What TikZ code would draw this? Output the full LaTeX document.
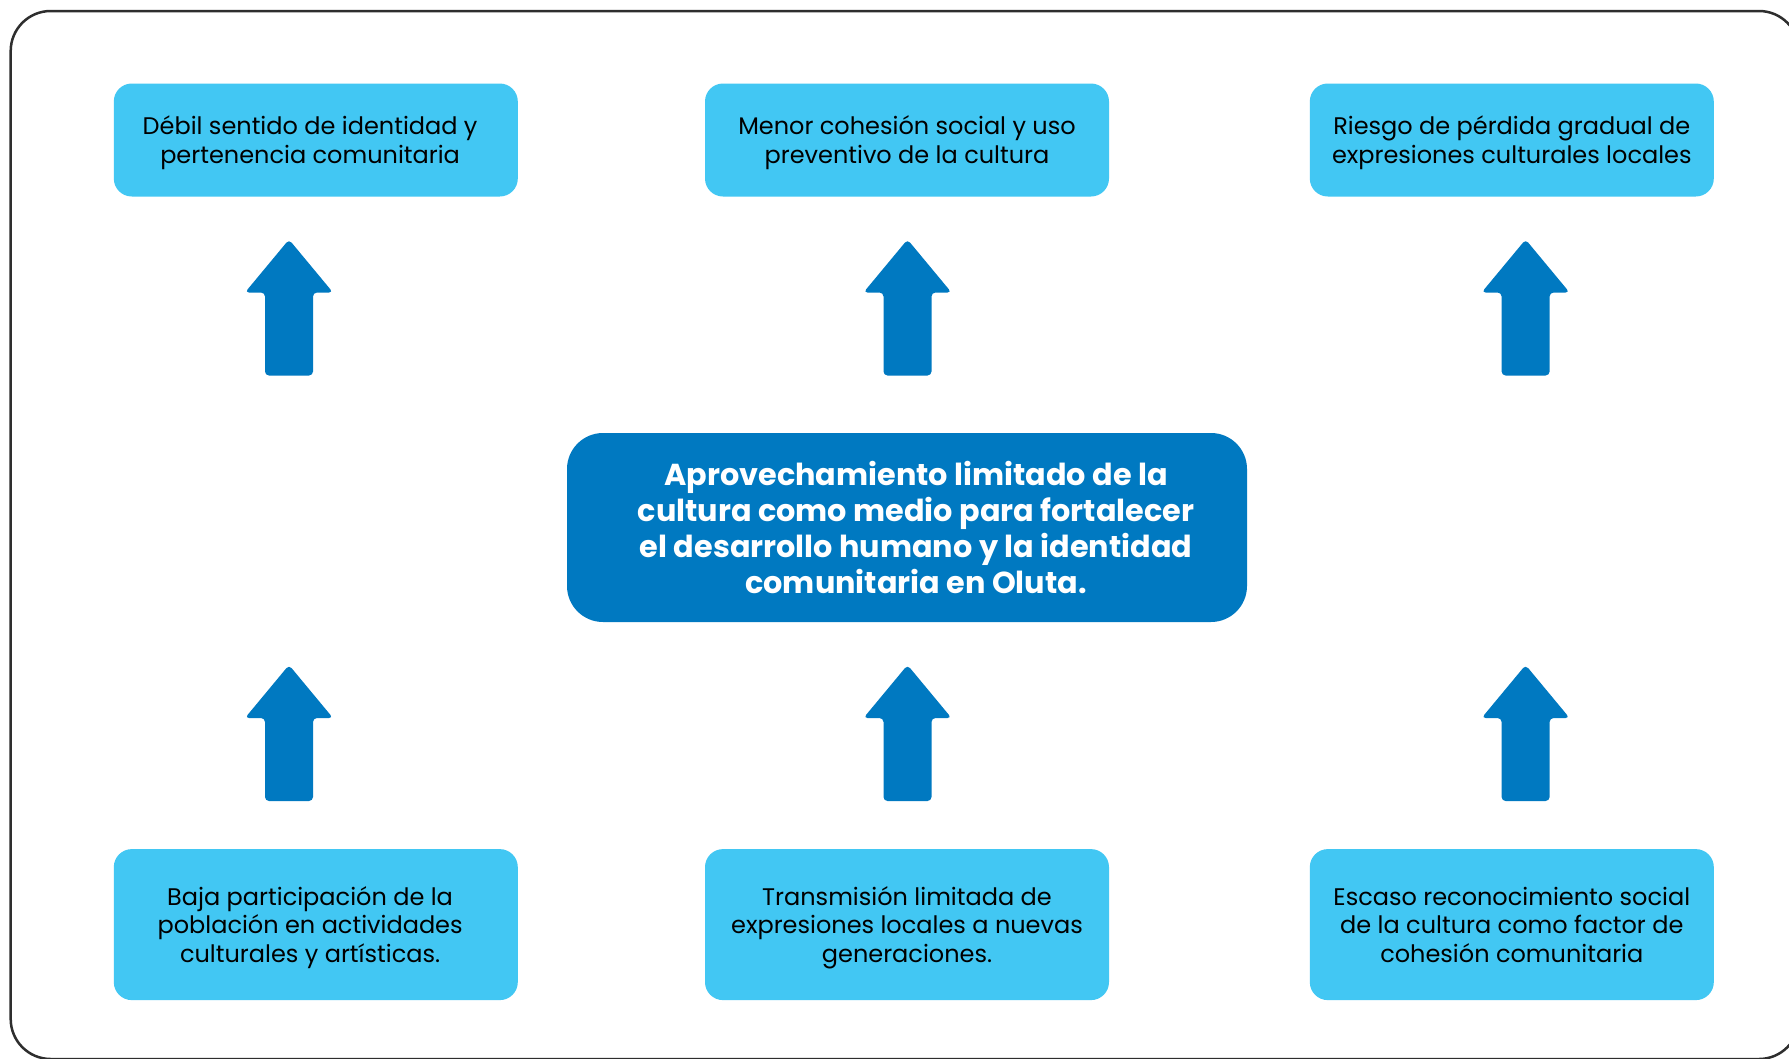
\documentclass[tikz,border=0pt]{standalone}
\usepackage{fontspec}
\setmainfont{Poppins}
\definecolor{lightbox}{HTML}{42C7F3}
\definecolor{darkbox}{HTML}{0079C1}
\definecolor{framegray}{HTML}{2E2E2E}
\tikzset{
  lbox/.style={fill=lightbox, rounded corners=18pt, minimum width=404pt, inner sep=0pt},
  topbox/.style={lbox, minimum height=113pt},
  botbox/.style={lbox, minimum height=151pt},
  ltext/.style={inner sep=0pt, text=black, font=\fontsize{24}{28.5}\selectfont, yshift=-3.4pt},
  centerbox/.style={fill=darkbox, rounded corners=36pt, minimum width=680pt,
    minimum height=189pt, inner sep=0pt},
  ctext/.style={inner sep=0pt, text=white,
    font=\fontsize{30.3}{35.7}\selectfont\bfseries, xshift=9pt, yshift=-4.9pt},
  blockarrow/.style={fill=darkbox, rounded corners=4pt},
  outerframe/.style={draw=framegray, line width=2.5pt, rounded corners=40pt}
}
\newcommand{\uparrowshape}[1]{%
  \fill[blockarrow] (#1) -- ++(44,53) -- ++(-20,0) -- ++(0,83) -- ++(-48,0)
    -- ++(0,-83) -- ++(-20,0) -- cycle;}
\newcommand{\lines}[1]{\begin{tabular}{@{}c@{}}#1\end{tabular}}
\begin{document}
\begin{tikzpicture}[x=1pt,y=-1pt]
\useasboundingbox (0,0) rectangle (1789,1058);
\fill[white] (0,0) rectangle (1789,1058);
\draw[outerframe] (10.7,11) rectangle (1799,1059);

\node[topbox, label={[ltext, xshift=-5.7pt]center:{\lines{Débil sentido de identidad y\\pertenencia comunitaria}}}] (t1) at (315.8,140) {};
\node[topbox, label={[ltext]center:{\lines{Menor cohesión social y uso\\preventivo de la cultura}}}] (t2) at (907,140) {};
\node[topbox, label={[ltext]center:{\lines{Riesgo de pérdida gradual de\\expresiones culturales locales}}}] (t3) at (1511.8,140) {};

\node[centerbox, label={[ctext]center:{\lines{Aprovechamiento limitado de la\\cultura como medio para fortalecer\\el desarrollo humano y la identidad\\comunitaria en Oluta.}}}] (c) at (907,527.5) {};

\node[botbox, label={[ltext, xshift=-5.7pt]center:{\lines{Baja participación de la\\población en actividades\\culturales y artísticas.}}}] (b1) at (315.8,924.6) {};
\node[botbox, label={[ltext]center:{\lines{Transmisión limitada de\\expresiones locales a nuevas\\generaciones.}}}] (b2) at (907,924.6) {};
\node[botbox, label={[ltext]center:{\lines{Escaso reconocimiento social\\de la cultura como factor de\\cohesión comunitaria}}}] (b3) at (1511.8,924.6) {};

\coordinate (ua1) at (289,239.5);
\coordinate (ua2) at (907.5,239.5);
\coordinate (ua3) at (1525.6,239.5);
\coordinate (la1) at (289,665);
\coordinate (la2) at (907.5,665);
\coordinate (la3) at (1525.6,665);
\uparrowshape{ua1}
\uparrowshape{ua2}
\uparrowshape{ua3}
\uparrowshape{la1}
\uparrowshape{la2}
\uparrowshape{la3}
\end{tikzpicture}
\end{document}
